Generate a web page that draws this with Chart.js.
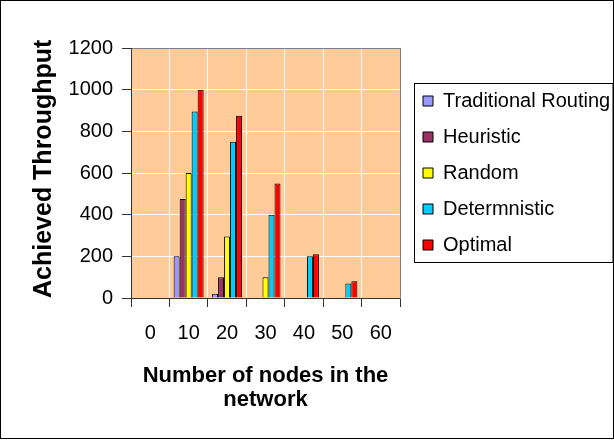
<!DOCTYPE html>
<html>
<head>
<meta charset="utf-8">
<script src="https://cdn.jsdelivr.net/npm/chart.js@4/dist/chart.umd.min.js"></script>
<style>
  html, body { margin: 0; padding: 0; background: #fff; }
  #wrap { width: 614px; height: 440px; }
</style>
</head>
<body>
<div id="wrap"><canvas id="c" width="614" height="440"></canvas></div>
<script>
const categories = ['0', '10', '20', '30', '40', '50', '60'];
const traditionalRouting = [null, 200, 20, null, null, null, null];
const heuristic = [null, 475, 100, null, null, null, null];
const randomSeries = [null, 600, 295, 100, null, null, null];
const deterministic = [null, 895, 750, 400, 200, 70, null];
const optimal = [null, 1000, 875, 550, 210, 80, null];
const seriesNames = ['Traditional Routing', 'Heuristic', 'Random', 'Determnistic', 'Optimal'];
const seriesColors = ['#9999FF', '#993366', '#FFFF00', '#00CCFF', '#FF0000'];
const yTicks = { min: 0, max: 1200, step: 200 };
const xTitle = ['Number of nodes in the', 'network'];
const yTitle = 'Achieved Throughput';

const FONT = "'Liberation Sans', Arial, sans-serif";
const seriesData = [traditionalRouting, heuristic, randomSeries, deterministic, optimal];

const decor = {
  id: 'decor',
  beforeDraw(chart) {
    const {ctx, chartArea: a} = chart;
    ctx.save();
    ctx.fillStyle = '#FFCC99';
    ctx.fillRect(a.left, a.top, a.right - a.left, a.bottom - a.top);
    ctx.restore();
  },
  afterDraw(chart) {
    const ctx = chart.ctx;
    ctx.save();
    ctx.strokeStyle = '#000';
    ctx.lineWidth = 1;
    const hb = chart.legend.legendHitBoxes;
    if (hb && hb.length) {
      const first = hb[0], last = hb[hb.length - 1];
      const l = Math.round(first.left - 9) + 0.5;
      const t = Math.round(first.top - 8) + 0.5;
      const b = Math.round(last.top + last.height + 7) + 0.5;
      ctx.strokeRect(l, t, 613 - l, b - t);
    }
    ctx.strokeRect(0.5, 0.5, 613, 438);
    ctx.restore();
  }
};

new Chart(document.getElementById('c'), {
  type: 'bar',
  data: {
    labels: categories,
    datasets: seriesData.map((d, i) => ({
      label: seriesNames[i],
      data: d,
      backgroundColor: seriesColors[i],
      borderColor: '#000',
      borderWidth: 1,
      categoryPercentage: 0.78,
      barPercentage: 1.0
    }))
  },
  options: {
    responsive: false,
    animation: false,
    devicePixelRatio: 1,
    layout: { padding: { top: 48, left: 0, right: 0, bottom: 0 } },
    plugins: {
      tooltip: { enabled: false },
      legend: {
        position: 'right',
        fullSize: false,
        align: 'center',
        maxWidth: 207,
        labels: {
          boxWidth: 10,
          boxHeight: 10,
          padding: 16,
          color: '#000',
          font: { family: FONT, size: 20 }
        }
      }
    },
    scales: {
      x: {
        grid: { color: '#FFFFFF', tickColor: '#333', tickLength: 9, offset: true },
        border: { color: '#333', z: 1 },
        ticks: { color: '#000', font: { family: FONT, size: 20 }, padding: 14, maxRotation: 0 },
        title: {
          display: true, text: xTitle, color: '#000',
          font: { family: FONT, size: 22, weight: 'bold', lineHeight: '24px' },
          padding: { top: 0, bottom: 28 }
        },
        afterFit(s) { s.height = 142; }
      },
      y: {
        min: yTicks.min, max: yTicks.max,
        ticks: {
          stepSize: yTicks.step, color: '#000', font: { family: FONT, size: 20 }, padding: 9,
          format: { useGrouping: false }
        },
        grid: {
          color: (c) => (c.tick && c.tick.value === yTicks.max) ? '#808080' : '#FFFFFF',
          tickColor: '#333', tickLength: 9
        },
        border: { color: '#333', z: 1 },
        title: {
          display: true, text: yTitle, align: 'start', color: '#000',
          font: { family: FONT, size: 25, weight: 'bold' },
          padding: { top: 29, bottom: 0 }
        },
        afterFit(s) { s.width = 131; }
      },
      y2: {
        position: 'right',
        display: true,
        grid: { display: false, drawTicks: false },
        ticks: { display: false },
        border: { color: '#808080', z: 1 },
        afterFit(s) { s.width = 7; }
      }
    }
  },
  plugins: [decor]
});
</script>
</body>
</html>
